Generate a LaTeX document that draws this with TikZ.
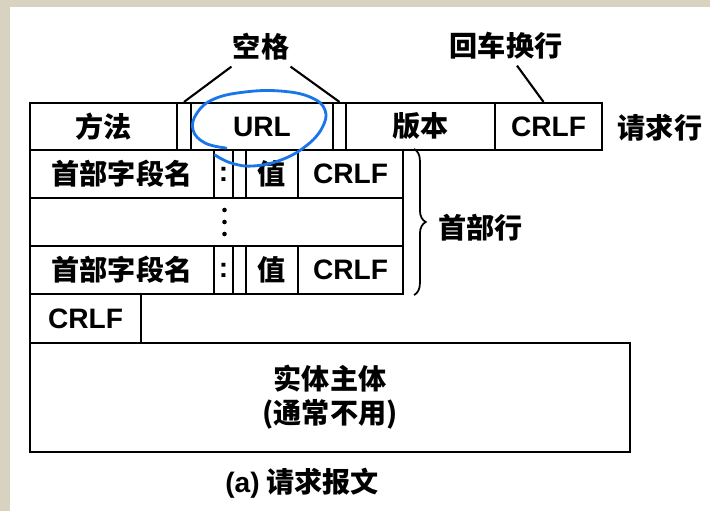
\documentclass[tikz,border=0pt]{standalone}
\usepackage{fontspec}
\setmainfont{Noto Sans CJK SC}
\newfontfamily\latfont{Liberation Sans}
\usetikzlibrary{calc,decorations.pathreplacing}
\definecolor{scanframe}{RGB}{216,210,193}
\definecolor{penblue}{RGB}{26,118,232}
\tikzset{
	cell/.style={draw, line width=1.8pt, inner sep=0pt, align=center},
	tag/.style={inner xsep=1pt, inner ysep=5pt},
}
\def\cellbox(#1)(#2,#3)(#4,#5)#6{\node[cell, minimum width={(#3-#2)*0.03cm}, minimum height={(#5-#4)*0.03cm}] (#1) at ({(#2+#3)/2}, {(#4+#5)/2}) {#6};}

\begin{document}
\begin{tikzpicture}[x=0.03cm, y=-0.03cm, font=\fontsize{24}{29}\selectfont\bfseries]
			%%%%% START %%%%%
			
			\fill[scanframe] (0, 0) rectangle (710, 511);
			\fill[white] (10, 7) rectangle (710, 511);
			
			\cellbox(method)(30,177)(103,150){方法}
			\cellbox(spa)(177,191)(103,150){}
			\cellbox(url)(191,333)(103,150){\latfont URL}
			\cellbox(spb)(333,346)(103,150){}
			\cellbox(version)(346,495)(103,150){版本}
			\cellbox(crlfa)(495,602)(103,150){\latfont CRLF}
			
			\node[tag] (blank) at (261, 47) {空格};
			\node[tag] (crlfnote) at (506, 46) {回车换行};
			\node[tag] (reqline) at (660, 128) {请求行};
			\draw[line width=1.8pt] (blank.south west) -- (spa.north);
			\draw[line width=1.8pt] (blank.south east) -- (spb.north);
			\draw[line width=1.8pt] ($(crlfnote.south)+(11, 0)$) -- ($(crlfa.north)+(-5, 0)$);
			
			\cellbox(namea)(30,214)(150,198){首部字段名}
			\cellbox(cola)(214,233)(150,198){\latfont :}
			\cellbox(gapa)(233,246)(150,198){}
			\cellbox(valuea)(246,298)(150,198){值}
			\cellbox(crlfb)(298,403)(150,198){\latfont CRLF}
			
			\cellbox(more)(30,403)(198,246){}
			\foreach \dy in {-12, 0, 12}
				\fill ($(more.center)+(8, \dy)$) circle (2.3);
			
			\cellbox(nameb)(30,214)(246,294){首部字段名}
			\cellbox(colb)(214,233)(246,294){\latfont :}
			\cellbox(gapb)(233,246)(246,294){}
			\cellbox(valueb)(246,298)(246,294){值}
			\cellbox(crlfc)(298,403)(246,294){\latfont CRLF}
			
			\draw[line width=1.5pt, decorate, decoration={brace, amplitude=10pt}] ($(crlfb.north east)+(10, 0)$) -- ($(crlfc.south east)+(10, 0)$);
			\node[tag, anchor=west] (hdrline) at (437, 228) {首部行};
			
			\cellbox(crlfd)(30,141)(294,343){\latfont CRLF}
			\cellbox(body)(30,630)(343,452){实体主体\\(通常不用)}
			
			\node[tag] (caption) at (302, 483) {{\latfont (a)} 请求报文};
			
			\draw[penblue, line width=2.4pt, line cap=round] plot[smooth, tension=0.7] coordinates {(226,148) (205,143) (193,130) (197,113) (214,99) (245,92) (280,91) (310,97) (325,110) (322,128) (306,146) (281,160) (253,166) (231,163) (215,155)};
			
			%%%%% END %%%%%
		\end{tikzpicture}
\end{document}
